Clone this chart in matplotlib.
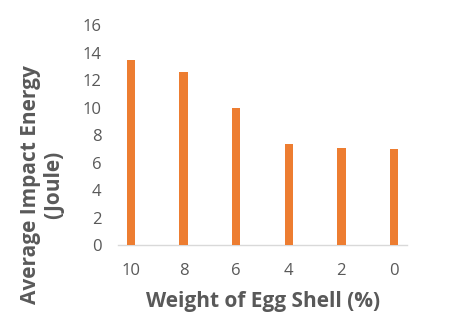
import matplotlib
matplotlib.use("Agg")
import matplotlib.pyplot as plt

categories = ["10", "8", "6", "4", "2", "0"]
values = [13.45, 12.6, 10.0, 7.35, 7.08, 7.0]
yticks = [0, 2, 4, 6, 8, 10, 12, 14, 16]

plt.rcParams['font.family'] = ['Open Sans', 'DejaVu Sans']

fig = plt.figure(figsize=(4.51, 3.25), dpi=100)
ax = fig.add_axes([0.2616, 0.246, 0.6408, 0.677])
x = list(range(len(categories)))
ax.bar(x, values, width=0.16, color='#ED7D31', zorder=3)
ax.set_xlim(-0.25, len(categories) - 0.75)
ax.set_ylim(0, 16)
ax.set_yticks(yticks)
ax.set_xticks(x)
ax.set_xticklabels(categories)
for s in ['top', 'right', 'left']:
    ax.spines[s].set_visible(False)
ax.spines['bottom'].set_color('#D9D9D9')
ax.spines['bottom'].set_linewidth(1.0)
ax.tick_params(axis='both', length=0, labelsize=12, colors='#595959')
ax.tick_params(axis='y', pad=12)
ax.tick_params(axis='x', pad=13)
fig.text(0.583, 1 - 302 / 325, 'Weight of Egg Shell (%)', fontsize=15, fontweight='bold',
         color='#595959', ha='center', va='center')
fig.text(0.093, 1 - 185 / 325, 'Average Impact Energy\n(Joule)', fontsize=15, fontweight='bold',
         color='#595959', ha='center', va='center', rotation=90, multialignment='center',
         linespacing=1.15)
fig.savefig('out.png', dpi=100)
